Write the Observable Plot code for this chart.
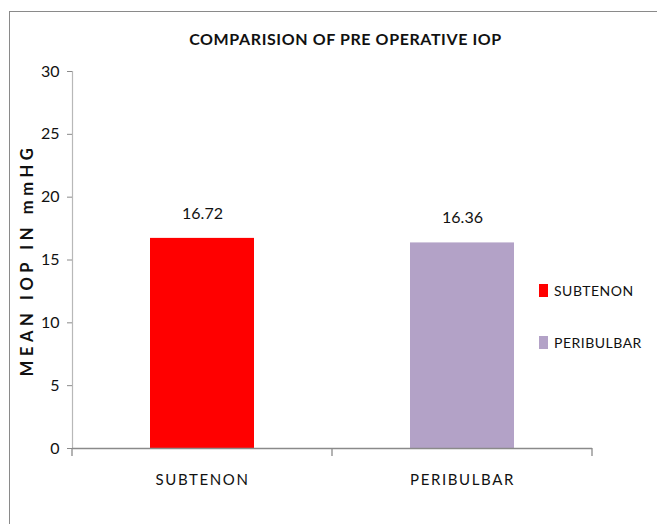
<!DOCTYPE html>
<html>
<head>
<meta charset="utf-8">
<script src="https://cdn.jsdelivr.net/npm/d3@7"></script>
<script src="https://cdn.jsdelivr.net/npm/@observablehq/plot@0.6"></script>
<style>
  html, body { margin: 0; padding: 0; background: #fff; }
  #wrap { position: relative; width: 657px; height: 524px; overflow: hidden; font-family: Lato, sans-serif; }
  #border { position: absolute; left: 9px; top: 11px; width: 700px; height: 600px; border-top: 1.5px solid #8a8a8a; border-left: 1.5px solid #8a8a8a; pointer-events: none; }
  #legend { position: absolute; left: 539px; top: 280px; font-size: 14px; color: #111; letter-spacing: 0.5px; white-space: nowrap; }
  .item { display: flex; align-items: center; height: 20px; margin-bottom: 32px; }
  .sw { width: 9px; height: 13px; margin-right: 6px; flex: none; }
</style>
</head>
<body>
<div id="wrap"><div id="border"></div><div id="legend"></div></div>
<script>
const title = "COMPARISION OF PRE OPERATIVE IOP";
const yLabel = "MEAN IOP IN mmHG";
const categories = ["SUBTENON", "PERIBULBAR"];
const values = [16.72, 16.36];
const colors = ["#FF0000", "#B3A2C7"];
const yTicks = [0, 5, 10, 15, 20, 25, 30];

const data = categories.map((c, i) => ({category: c, value: values[i]}));
const font = 'Lato, sans-serif';

const plot = Plot.plot({
  width: 657,
  height: 524,
  marginLeft: 72,
  marginRight: 65,
  marginTop: 71,
  marginBottom: 76,
  style: {fontFamily: font, background: "transparent", color: "#111"},
  x: {domain: categories, paddingInner: 0.6, paddingOuter: 0.3, label: null},
  y: {domain: [0, 30], label: null},
  color: {domain: categories, range: colors},
  marks: [
    Plot.barY(data, {x: "category", y: "value", fill: "category"}),
    Plot.frame({anchor: "left", stroke: "#b8b8b8", strokeWidth: 1.2}),
    Plot.ruleY([0], {stroke: "#8a8a8a", strokeWidth: 1.3}),
    Plot.axisY({ticks: yTicks, tickSize: 5, tickPadding: 8, fontSize: 16, stroke: "#8a8a8a", label: null}),
    Plot.axisX({tickSize: 0, tickPadding: 26, fontSize: 15, label: null}),
    Plot.text(data, {x: "category", y: "value", text: d => d.value.toFixed(2), dy: -25, fontSize: 16, fill: "#111"}),
    Plot.text([title], {frameAnchor: "top", dx: 13, dy: -38, fontSize: 16, fontWeight: "bold", fill: "#111", textAnchor: "middle"}),
    Plot.text([yLabel], {frameAnchor: "left", dx: -45, rotate: -90, fontSize: 16.5, fontWeight: "bold", fill: "#111", textAnchor: "middle"})
  ]
});

// letter spacing for text that is spaced out in the reference
d3.select(plot).selectAll("g[aria-label='x-axis tick label'] text").style("letter-spacing", "1.6px");
d3.select(plot).selectAll("g[aria-label='text'] text").filter(function() { return this.textContent === yLabel; }).style("letter-spacing", "4.6px");
d3.select(plot).selectAll("g[aria-label='text'] text").filter(function() { return this.textContent === title; }).style("letter-spacing", "0.6px");

// category boundary tick marks on the x axis, from Plot's own scales
const xs = plot.scale("x");
const ys = plot.scale("y");
const y0 = ys.apply(0);
const half = (xs.step - xs.bandwidth) / 2;
const bounds = categories.map(c => xs.apply(c) - half).concat([xs.apply(categories[categories.length - 1]) + xs.bandwidth + half]);
d3.select(plot).append("g").selectAll("line").data(bounds).join("line")
  .attr("x1", d => d).attr("x2", d => d).attr("y1", y0).attr("y2", y0 + 8)
  .attr("stroke", "#8a8a8a").attr("stroke-width", 1.3);

document.getElementById("wrap").appendChild(plot);
plot.style.position = "absolute"; plot.style.left = "0"; plot.style.top = "0";

const legend = d3.select("#legend");
categories.forEach((c, i) => {
  const it = legend.append("div").attr("class", "item");
  it.append("div").attr("class", "sw").style("background", colors[i]);
  it.append("span").text(c);
});
</script>
</body>
</html>
